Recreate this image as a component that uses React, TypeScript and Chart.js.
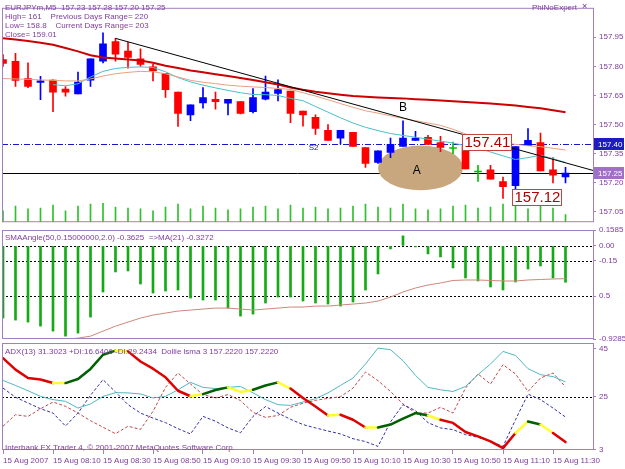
import React, { useEffect, useRef } from 'react';
import { Chart, registerables } from 'chart.js';
Chart.register(...registerables);

const FONT = 'Liberation Sans';
const TEXT_COLOR = '#8040a0';
const FRAME_COLOR = '#a27fc2';

// ---------- x axis (bar index, M5 bars from 07:50) ----------
const X_MIN = -0.08;
const X_MAX = 47.2;
const X_TICK_INDEX = [0, 4, 8, 12, 16, 20, 24, 28, 32, 36, 40, 44];
const X_TICK_LABELS = [
  '15 Aug 2007', '15 Aug 08:10', '15 Aug 08:30', '15 Aug 08:50', '15 Aug 09:10', '15 Aug 09:30',
  '15 Aug 09:50', '15 Aug 10:10', '15 Aug 10:30', '15 Aug 10:50', '15 Aug 11:10', '15 Aug 11:30',
];

// ---------- main panel: EURJPYm,M5 ----------
const OPEN = [157.835, 157.826, 157.737, 157.717, 157.729, 157.683, 157.658, 157.729, 157.826, 157.927,
  157.878, 157.839, 157.797, 157.764, 157.668, 157.55, 157.611, 157.63, 157.61, 157.618,
  157.566, 157.631, 157.66, 157.672, 157.569, 157.538, 157.471, 157.43, 157.46, 157.382,
  157.305, 157.357, 157.387, 157.419, 157.435, 157.408, 157.377, 157.387, 157.256, 157.267,
  157.207, 157.186, 157.391, 157.408, 157.267, 157.23];
const HIGH = [157.86, 157.867, 157.818, 157.748, 157.73, 157.696, 157.77, 157.839, 157.973, 157.944,
  157.924, 157.89, 157.81, 157.764, 157.668, 157.602, 157.69, 157.667, 157.63, 157.62,
  157.686, 157.75, 157.73, 157.672, 157.57, 157.55, 157.5, 157.471, 157.46, 157.382,
  157.365, 157.43, 157.52, 157.465, 157.445, 157.44, 157.41, 157.387, 157.29, 157.29,
  157.23, 157.387, 157.48, 157.456, 157.33, 157.28];
const LOW = [157.8, 157.696, 157.69, 157.628, 157.566, 157.647, 157.658, 157.697, 157.818, 157.826,
  157.79, 157.8, 157.725, 157.64, 157.49, 157.52, 157.585, 157.58, 157.55, 157.555,
  157.56, 157.627, 157.622, 157.51, 157.492, 157.45, 157.419, 157.4, 157.387, 157.28,
  157.3, 157.33, 157.387, 157.419, 157.398, 157.36, 157.35, 157.272, 157.207, 157.219,
  157.12, 157.17, 157.391, 157.261, 157.2, 157.2];
const CLOSE = [157.815, 157.728, 157.696, 157.725, 157.667, 157.667, 157.719, 157.839, 157.916, 157.862,
  157.846, 157.81, 157.777, 157.68, 157.558, 157.602, 157.639, 157.618, 157.63, 157.558,
  157.639, 157.667, 157.68, 157.558, 157.55, 157.48, 157.419, 157.471, 157.387, 157.3,
  157.365, 157.398, 157.43, 157.43, 157.398, 157.382, 157.377, 157.272, 157.256, 157.219,
  157.18, 157.387, 157.419, 157.261, 157.24, 157.25];
const VOLUME = [60, 85, 70, 75, 90, 60, 85, 95, 100, 80, 75, 70, 60, 80, 95, 70, 85, 75, 65, 70,
  80, 85, 70, 90, 75, 80, 70, 75, 85, 95, 80, 75, 95, 70, 65, 70, 85, 90, 75, 80, 95, 100, 70, 85, 75, 40];
const MA_SLOW = [157.945, 157.938, 157.93, 157.921, 157.911, 157.894, 157.877, 157.857, 157.845, 157.84,
  157.835, 157.83, 157.818, 157.803, 157.791, 157.779, 157.769, 157.759, 157.75, 157.74,
  157.73, 157.718, 157.706, 157.691, 157.679, 157.669, 157.662, 157.654, 157.647, 157.643,
  157.64, 157.637, 157.635, 157.631, 157.628, 157.624, 157.62, 157.616, 157.613, 157.608,
  157.603, 157.598, 157.591, 157.584, 157.574, 157.564];
const MA_MID = [157.737, 157.735, 157.733, 157.73, 157.728, 157.725, 157.725, 157.735, 157.75, 157.762,
  157.769, 157.774, 157.772, 157.762, 157.745, 157.728, 157.718, 157.711, 157.703, 157.698,
  157.694, 157.691, 157.686, 157.681, 157.664, 157.647, 157.628, 157.608, 157.589, 157.571,
  157.559, 157.545, 157.532, 157.52, 157.508, 157.496, 157.476, 157.452, 157.432, 157.418,
  157.408, 157.398, 157.391, 157.386, 157.378, 157.369];
const MA_FAST = [null, null, null, null, 157.706, 157.7, 157.71, 157.745, 157.774, 157.789,
  157.795, 157.797, 157.794, 157.772, 157.742, 157.72, 157.703, 157.689, 157.676, 157.664,
  157.655, 157.654, 157.65, 157.635, 157.623, 157.593, 157.564, 157.535, 157.508, 157.486,
  157.469, 157.454, 157.444, 157.435, 157.425, 157.415, 157.405, 157.391, 157.378, 157.359,
  157.339, 157.32, 157.33, 157.342, 157.325, 157.305];
const TREND_IDX = [9, 47.2];
const TREND_PRICE = [157.944, 157.264];
const MAIN_Y_MIN = 156.9974;
const MAIN_Y_MAX = 158.1014;
const MAIN_TICKS = [157.95, 157.8, 157.65, 157.5, 157.35, 157.2, 157.05];
const S2_LEVEL = 157.4;
const BID_PRICE = 157.25;
const ELLIPSE_A = { idx: 33.4, price: 157.277, rIdx: 3.4, rPrice: 0.115 };
const TEXT_MARKS = [
  { idx: 32, price: 157.588, text: 'B', size: 12, color: '#000000' },
  { idx: 33.1, price: 157.265, text: 'A', size: 12, color: '#000000' },
  { idx: 24.85, price: 157.379, text: 'S2', size: 8, color: '#202080' },
];
const PRICE_LABELS = [
  { idx: 36.7, price: 157.41, text: '157.41' },
  { idx: 40.7, price: 157.127, text: '157.12' },
];

// ---------- middle panel: SMAAngle ----------
const SMA_ANGLE = [-0.72, -0.74, -0.76, -0.8, -0.85, -0.9, -0.87, -0.71, -0.46, -0.26,
  -0.25, -0.38, -0.47, -0.45, -0.44, -0.52, -0.54, -0.54, -0.62, -0.7,
  -0.68, -0.57, -0.51, -0.51, -0.55, -0.57, -0.58, -0.6, -0.56, -0.44,
  -0.28, -0.03, 0.1, -0.01, -0.08, -0.11, -0.22, -0.32, -0.35, -0.41,
  -0.44, -0.36, -0.23, -0.2, -0.32, -0.3625];
const SMA_MA21 = [null, null, -0.93, -0.93, -0.93, -0.93, -0.92, -0.9, -0.85, -0.8,
  -0.76, -0.72, -0.69, -0.67, -0.65, -0.64, -0.63, -0.62, -0.62, -0.63,
  -0.64, -0.63, -0.62, -0.61, -0.61, -0.6, -0.6, -0.59, -0.58, -0.57,
  -0.55, -0.51, -0.46, -0.42, -0.39, -0.37, -0.345, -0.34, -0.34, -0.345,
  -0.35, -0.35, -0.34, -0.335, -0.33, -0.327];
const MID_MIN = -0.9285;
const MID_MAX = 0.1585;
const MID_TICKS = [0.1585, 0, -0.15, -0.5, -0.9285];
const MID_TICK_LABELS = ['0.1585', '0.00', '-0.15', '0.5', '-0.9285'];
const MID_LEVELS = [0, -0.15, -0.5];

// ---------- bottom panel: ADX ----------
const ADX = [31.9, 29.8, 27.6, 25.25, 23.9, 23.2, 20.4, 22.1, 25.25, 26.8,
  26.7, 26.25, 24.6, 25.25, 28, 31.1, 29, 28.5, 29, 29.4,
  26.7, 23.9, 21.8, 21.5, 22.9, 24.3, 26.7, 29.8, 32.9, 38.75,
  45.4, 44.7, 40.1, 34, 29, 28, 27.3, 29.4, 34.3, 38.75,
  44, 42.3, 36.8, 34.3, 33.5, 31.3];
const DI_PLUS = [28.7, 24.9, 22.5, 20.1, 18.3, 12.9, 18.3, 25.7, 32.2, 27.1,
  21.8, 18.3, 16.2, 14.3, 11.8, 9.6, 16.9, 14.9, 12.1, 10.1,
  16.9, 21, 18.3, 15.7, 13.5, 12.1, 10.8, 9.6, 7.6, 6.4,
  4.4, 14.6, 21.8, 19.3, 14.3, 12.1, 11.4, 9.3, 8.2, 6.5,
  4.4, 15.5, 26.2, 23.9, 20.4, 16.64];
const DI_MINUS = [12.8, 17.6, 16.9, 20.1, 22.9, 21.1, 18.3, 15.1, 12.4, 9.7,
  12.8, 11.5, 19, 29, 35, 30.4, 26, 24.6, 26, 23.5,
  18.6, 16.5, 17.3, 20.7, 22.4, 23.6, 24.4, 25.1, 28.7, 35.4,
  31.8, 27.3, 22.1, 18.3, 18.3, 20.7, 18.3, 28.7, 34.6, 30.4,
  38.5, 34.6, 27.3, 32.9, 35, 29.24];
const LSMA = [41.2, 36.4, 32.9, 32.3, 30.8, 30.8, 32.5, 36.7, 42.6, 44.3,
  44, 39.8, 36.8, 33.2, 27.6, 25.3, 26.2, 27.9, 29, 27.1,
  28, 29.8, 31.1, 28.5, 24.6, 21, 17.3, 17.6, 15.5, 12.3,
  12.3, 13.5, 16, 18.3, 17.3, 15.5, 14.2, 10.4, 8.6, 6.5,
  3.7, 10, 14.8, 13.5, 10, 6.2];
// r = falling, g = rising, y = flat (one letter per segment)
const LSMA_TREND = 'rrrryggggyrrrrryggyyggyrrryrryggggyrrrrrrygyrr'.split('');
const BOT_MIN = 2.9;
const BOT_MAX = 47.5;
const BOT_TICKS = [45, 25, 3];
const BOT_LEVELS = [25];

const UP = '#0000ff';
const DOWN = '#ff0000';
const DOJI = '#00c000';
const SEG_COLORS: Record<string, string> = { r: '#e00000', g: '#006000', y: '#ffff30' };

const idxs = OPEN.map((_, i) => i);
const candleColor = (i: number) => (CLOSE[i] > OPEN[i] ? UP : CLOSE[i] < OPEN[i] ? DOWN : DOJI);
const pts = (arr: (number | null)[]) => arr.map((v, i) => ({ x: i, y: v }));

function xScale(show: boolean): any {
  return {
    type: 'linear', min: X_MIN, max: X_MAX, offset: false, display: show,
    grid: { display: show, drawOnChartArea: false, drawTicks: true, tickLength: 4, tickColor: FRAME_COLOR, color: FRAME_COLOR },
    border: { display: false },
    ticks: {
      autoSkip: false, maxRotation: 0, minRotation: 0, align: 'start', padding: 2,
      color: TEXT_COLOR, font: { family: FONT, size: 8 },
      callback: (_v: any, i: number) => X_TICK_LABELS[i],
    },
    afterBuildTicks: (s: any) => { s.ticks = X_TICK_INDEX.map((v) => ({ value: v })); },
    afterFit: (s: any) => { if (show) s.height = 19; },
  };
}

function yScale(min: number, max: number, ticks: number[], label: (v: number, i: number) => string): any {
  return {
    type: 'linear', position: 'right', min, max,
    grid: { drawOnChartArea: false, drawTicks: true, tickLength: 3, tickColor: FRAME_COLOR },
    border: { display: false },
    ticks: { autoSkip: false, padding: 3, color: TEXT_COLOR, font: { family: FONT, size: 8 }, callback: (v: any, i: number) => label(Number(v), i) },
    afterBuildTicks: (s: any) => { s.ticks = ticks.map((v) => ({ value: v })); },
    afterFit: (s: any) => { s.width = 32; },
  };
}

function frame(chart: any) {
  const { ctx, chartArea: a } = chart;
  ctx.save();
  ctx.strokeStyle = FRAME_COLOR;
  ctx.lineWidth = 1;
  ctx.strokeRect(a.left + 0.5, a.top + 0.5, a.right - a.left, a.bottom - a.top - 1);
  ctx.restore();
}

function levels(chart: any, vals: number[]) {
  const { ctx, chartArea: a } = chart;
  const y = chart.scales.y;
  ctx.save();
  ctx.strokeStyle = '#000000';
  ctx.lineWidth = 1;
  ctx.setLineDash([2, 2]);
  vals.forEach((v) => {
    const py = Math.round(y.getPixelForValue(v)) + 0.5;
    ctx.beginPath();
    ctx.moveTo(a.left, py);
    ctx.lineTo(a.right, py);
    ctx.stroke();
  });
  ctx.restore();
}

const mainPlugin = {
  id: 'mainOverlay',
  beforeDatasetsDraw(chart: any) {
    const { ctx, chartArea: a } = chart;
    const x = chart.scales.x;
    const y = chart.scales.y;
    ctx.save();
    ctx.beginPath();
    ctx.rect(a.left, a.top, a.right - a.left, a.bottom - a.top);
    ctx.clip();
    const yS2 = Math.round(y.getPixelForValue(S2_LEVEL)) + 0.5;
    ctx.strokeStyle = '#1818c8';
    ctx.lineWidth = 1;
    ctx.setLineDash([6, 2, 1, 2]);
    ctx.beginPath(); ctx.moveTo(a.left, yS2); ctx.lineTo(a.right, yS2); ctx.stroke();
    ctx.setLineDash([]);
    const yB = Math.round(y.getPixelForValue(BID_PRICE)) + 0.5;
    ctx.strokeStyle = '#000000';
    ctx.beginPath(); ctx.moveTo(a.left, yB); ctx.lineTo(a.right, yB); ctx.stroke();
    const cx = x.getPixelForValue(ELLIPSE_A.idx);
    const cy = y.getPixelForValue(ELLIPSE_A.price);
    const rx = x.getPixelForValue(ELLIPSE_A.idx + ELLIPSE_A.rIdx) - cx;
    const ry = cy - y.getPixelForValue(ELLIPSE_A.price + ELLIPSE_A.rPrice);
    ctx.fillStyle = '#c9a77e';
    ctx.beginPath(); ctx.ellipse(cx, cy, rx, ry, 0, 0, Math.PI * 2); ctx.fill();
    ctx.restore();
  },
  afterDatasetsDraw(chart: any) {
    const { ctx } = chart;
    const x = chart.scales.x;
    const y = chart.scales.y;
    ctx.save();
    ctx.textBaseline = 'middle';
    ctx.textAlign = 'center';
    TEXT_MARKS.forEach((m) => {
      ctx.font = `${m.size}px ${FONT}`;
      ctx.fillStyle = m.color;
      ctx.fillText(m.text, x.getPixelForValue(m.idx), y.getPixelForValue(m.price));
    });
    ctx.textAlign = 'left';
    ctx.font = `15px ${FONT}`;
    PRICE_LABELS.forEach((p) => {
      const px = Math.round(x.getPixelForValue(p.idx)) + 0.5;
      const py = y.getPixelForValue(p.price);
      const w = Math.ceil(ctx.measureText(p.text).width) + 3;
      ctx.fillStyle = '#ffffff';
      ctx.fillRect(px, Math.round(py - 8) + 0.5, w, 16);
      ctx.strokeStyle = '#c84040';
      ctx.lineWidth = 1;
      ctx.strokeRect(px, Math.round(py - 8) + 0.5, w, 16);
      ctx.fillStyle = '#b00000';
      ctx.fillText(p.text, px + 2, py + 1);
    });
    ctx.restore();
  },
  afterDraw(chart: any) {
    frame(chart);
    const { ctx, chartArea: a } = chart;
    const y = chart.scales.y;
    ctx.save();
    ctx.font = `8px ${FONT}`;
    ctx.textBaseline = 'middle';
    ctx.textAlign = 'left';
    [
      { v: S2_LEVEL, bg: '#1c1cc0' },
      { v: BID_PRICE, bg: '#a070c8' },
    ].forEach((b) => {
      const py = Math.round(y.getPixelForValue(b.v));
      ctx.fillStyle = b.bg;
      ctx.fillRect(a.right + 1, py - 6, 30, 12);
      ctx.fillStyle = '#ffffff';
      ctx.fillText(b.v.toFixed(2), a.right + 5, py + 0.5);
    });
    ctx.restore();
  },
};

const midPlugin = {
  id: 'midOverlay',
  beforeDatasetsDraw(chart: any) { levels(chart, MID_LEVELS); },
  afterDraw(chart: any) { frame(chart); },
};

const botPlugin = {
  id: 'botOverlay',
  beforeDatasetsDraw(chart: any) { levels(chart, BOT_LEVELS); },
  afterDraw(chart: any) { frame(chart); },
};

const common: any = {
  responsive: false,
  animation: false,
  devicePixelRatio: 1,
  events: [],
  plugins: { legend: { display: false }, tooltip: { enabled: false } },
};

function makeMain(canvas: HTMLCanvasElement) {
  const line = (data: any[], color: string, width: number) => ({
    type: 'line', data, borderColor: color, borderWidth: width, pointRadius: 0, tension: 0, spanGaps: false, yAxisID: 'y',
  });
  return new Chart(canvas, {
    type: 'bar',
    data: {
      datasets: [
        line(TREND_IDX.map((v, i) => ({ x: v, y: TREND_PRICE[i] })), '#000000', 1),
        line(pts(MA_SLOW), '#cc0000', 2),
        line(pts(MA_MID), '#e8a080', 1),
        line(pts(MA_FAST), '#48c0c8', 1),
        {
          type: 'bar', data: idxs.map((i) => ({ x: i, y: [OPEN[i], CLOSE[i]] })),
          backgroundColor: idxs.map(candleColor), barThickness: 7, minBarLength: 1, grouped: false, yAxisID: 'y',
        },
        {
          type: 'bar', data: idxs.map((i) => ({ x: i, y: [LOW[i], HIGH[i]] })),
          backgroundColor: idxs.map(candleColor), barThickness: 1, grouped: false, yAxisID: 'y',
        },
        {
          type: 'bar', data: pts(VOLUME), backgroundColor: '#30c030', barThickness: 1, grouped: false, yAxisID: 'yv',
        },
      ] as any,
    },
    options: {
      ...common,
      layout: { padding: { left: 2, right: 0, top: 2, bottom: 2 } },
      scales: {
        x: xScale(false),
        y: yScale(MAIN_Y_MIN, MAIN_Y_MAX, MAIN_TICKS, (v) => v.toFixed(2)),
        yv: { type: 'linear', display: false, min: 0, max: 1130 },
      },
    },
    plugins: [mainPlugin],
  } as any);
}

function makeMid(canvas: HTMLCanvasElement) {
  return new Chart(canvas, {
    type: 'bar',
    data: {
      datasets: [
        { type: 'line', data: pts(SMA_MA21), borderColor: '#cc8878', borderWidth: 1, pointRadius: 0, tension: 0 },
        { type: 'bar', data: pts(SMA_ANGLE), backgroundColor: '#14aa14', barThickness: 2, grouped: false },
      ] as any,
    },
    options: {
      ...common,
      layout: { padding: { left: 2, right: 0, top: 8, bottom: 8 } },
      scales: {
        x: xScale(false),
        y: yScale(MID_MIN, MID_MAX, MID_TICKS, (_v, i) => MID_TICK_LABELS[i]),
      },
    },
    plugins: [midPlugin],
  } as any);
}

function makeBottom(canvas: HTMLCanvasElement) {
  return new Chart(canvas, {
    type: 'line',
    data: {
      datasets: [
        {
          data: pts(LSMA), borderWidth: 2.5, pointRadius: 0, tension: 0, borderColor: '#e00000',
          borderCapStyle: 'round', borderJoinStyle: 'round',
          segment: { borderColor: (c: any) => SEG_COLORS[LSMA_TREND[c.p0DataIndex]] },
        },
        { data: pts(ADX), borderColor: '#50b8c0', borderWidth: 1, pointRadius: 0, tension: 0 },
        { data: pts(DI_PLUS), borderColor: '#3030a8', borderWidth: 1, borderDash: [3, 2], pointRadius: 0, tension: 0 },
        { data: pts(DI_MINUS), borderColor: '#c04848', borderWidth: 1, borderDash: [3, 2], pointRadius: 0, tension: 0 },
      ] as any,
    },
    options: {
      ...common,
      layout: { padding: { left: 2, right: 0, top: 8, bottom: 0 } },
      scales: {
        x: xScale(true),
        y: yScale(BOT_MIN, BOT_MAX, BOT_TICKS, (v) => String(v)),
      },
    },
    plugins: [botPlugin],
  } as any);
}

const TITLE_LINES = [
  'EURJPYm,M5  157.23 157.28 157.20 157.25',
  'High= 161    Previous Days Range= 220',
  'Low= 158.8    Current Days Range= 203',
  'Close= 159.01',
];
const MID_LABEL = 'SMAAngle(50,0.15000000,2.0) -0.3625  =>MA(21) -0.3272';
const BOT_LABEL = 'ADX(13) 31.3023 +DI:16.6406 -DI:29.2434  Dollie lsma 3 157.2220 157.2220';
const COPYRIGHT = 'Interbank FX Trader 4, \u00a9 2001-2007 MetaQuotes Software Corp.';
const EXPERT = 'PhiNoExpert';

const txt = (top: number, left: number, extra: any = {}) => ({
  position: 'absolute' as const, top, left, fontFamily: FONT, fontSize: 8, lineHeight: '9px',
  color: TEXT_COLOR, whiteSpace: 'pre' as const, ...extra,
});

export default function App() {
  const r1 = useRef<HTMLCanvasElement>(null);
  const r2 = useRef<HTMLCanvasElement>(null);
  const r3 = useRef<HTMLCanvasElement>(null);
  useEffect(() => {
    const charts = [makeMain(r1.current!), makeMid(r2.current!), makeBottom(r3.current!)];
    return () => charts.forEach((c) => c.destroy());
  }, []);
  return (
    <div style={{ position: 'absolute', left: 0, top: 0, width: 625, height: 469, background: '#ffffff', overflow: 'hidden' }}>
      <canvas ref={r1} width={625} height={230} style={{ position: 'absolute', left: 0, top: 0 }} />
      <canvas ref={r2} width={625} height={125} style={{ position: 'absolute', left: 0, top: 222 }} />
      <canvas ref={r3} width={625} height={134} style={{ position: 'absolute', left: 0, top: 335 }} />
      {TITLE_LINES.map((t, i) => (
        <div key={i} style={txt(2.5 + i * 9.2, 5)}>{t}</div>
      ))}
      <div style={txt(2.5, 532)}>{EXPERT}</div>
      <div style={txt(1.5, 582, { fontSize: 9, color: '#6030a0' })}>{'\u00d7'}</div>
      <div style={txt(233, 5)}>{MID_LABEL}</div>
      <div style={txt(346.5, 5)}>{BOT_LABEL}</div>
      <div style={txt(442.5, 5)}>{COPYRIGHT}</div>
    </div>
  );
}
